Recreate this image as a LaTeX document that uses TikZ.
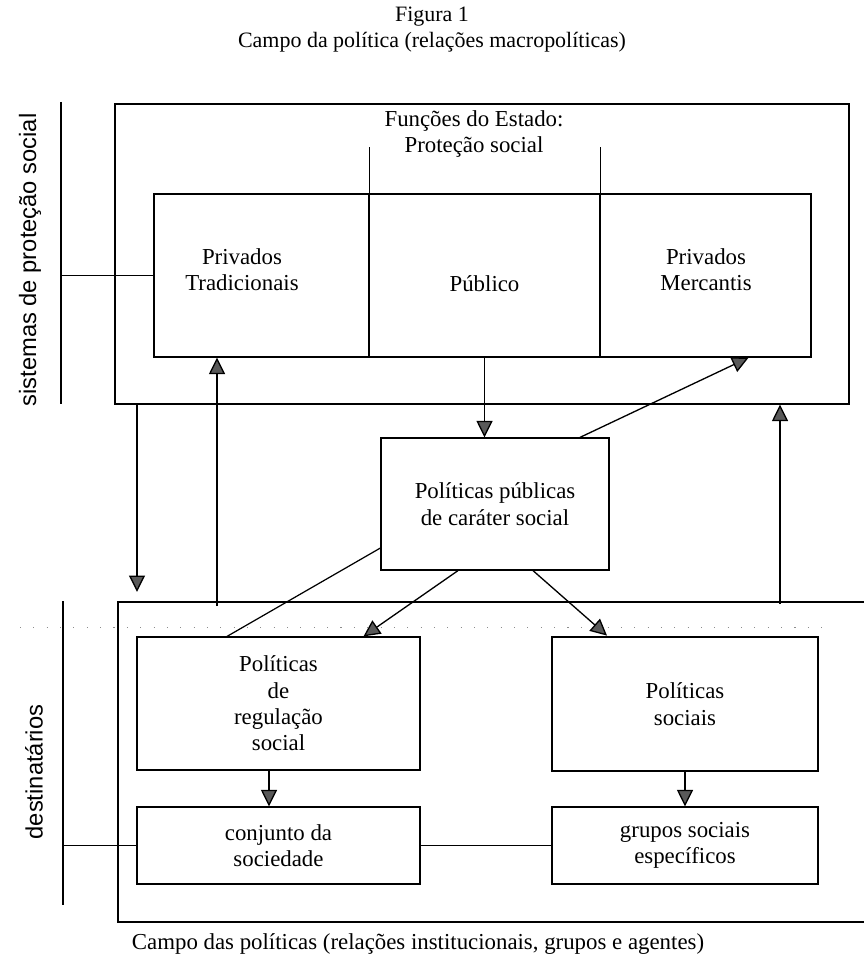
\documentclass[tikz,border=0pt]{standalone}
\usepackage{fontspec}
\setmainfont{Liberation Serif}
\setsansfont{Liberation Sans}
\usetikzlibrary{arrows.meta,positioning}

\begin{document}
\begin{tikzpicture}[
    x=0.02cm, y=-0.02cm,
    every node/.style={font=\fontsize{13}{15}\selectfont},
    caixa/.style={rectangle, draw, line width=0.7pt, inner sep=0pt, align=center},
    texto/.style={align=center, inner sep=0pt},
    rotulo/.style={font=\sffamily\fontsize{13.5}{15}\selectfont, rotate=90, inner sep=0pt},
    seta/.style={line width=0.75pt, -{Triangle[length=0.33cm, width=0.32cm, fill=black!65]}},
    liga/.style={line width=0.7pt},
    barra/.style={line width=1.3pt}
]
    \useasboundingbox (0,0) rectangle (863,959);

    % Titles
    \node[texto, font=\fontsize{12.5}{15}\selectfont] (fig) at (432,17) {Figura 1};
    \node[texto, font=\fontsize{12.5}{15}\selectfont] (titulo) at (432,42) {Campo da política (relações macropolíticas)};
    \node[texto] (rodape) at (418,944) {Campo das políticas (relações institucionais, grupos e agentes)};

    % Frames
    \node[caixa, minimum width=14.68cm, minimum height=6cm] (estado) at (482,254) {};
    \node[caixa, minimum width=15.64cm, minimum height=6.4cm] (campo) at (509,762) {};
    \node[texto] (funcoes) at (474,134) {Funções do Estado:\\Proteção social};

    % Protection systems
    \node[caixa, minimum width=4.3cm, minimum height=3.26cm] (tradic) at (261.5,275.5) {};
    \node[caixa, minimum width=4.62cm, minimum height=3.26cm] (publico) at (484.5,275.5) {};
    \node[caixa, minimum width=4.22cm, minimum height=3.26cm] (mercant) at (705.5,275.5) {};
    \node[texto] (ttradic) at (242,270) {Privados\\Tradicionais};
    \node[texto] (tpublico) at (484.5,284) {Público};
    \node[texto] (tmercant) at (706,270) {Privados\\Mercantis};
    \draw[liga] (tradic.north east) -- ++(0,-46);
    \draw[liga] (publico.north east) -- ++(0,-46);

    % Public policies
    \node[caixa, minimum width=4.56cm, minimum height=2.64cm] (politicas) at (495,504) {Políticas públicas\\de caráter social};

    % Policies and recipients
    \node[caixa, minimum width=5.66cm, minimum height=2.66cm] (regul) at (278.5,703.5) {Políticas\\de\\regulação\\social};
    \node[caixa, line width=1.6pt, minimum width=5.32cm, minimum height=2.68cm] (sociais) at (685,704) {Políticas\\sociais};
    \node[caixa, minimum width=5.66cm, minimum height=1.54cm] (conjunto) at (278.5,845.5) {conjunto da\\sociedade};
    \node[caixa, minimum width=5.32cm, minimum height=1.54cm] (grupos) at (685,845.5) {grupos sociais\\específicos};

    % Side labels
    \coordinate (b1a) at (61,102);
    \coordinate (b1b) at (61,404);
    \coordinate (b2a) at (63,601);
    \coordinate (b2b) at (63,905);
    \draw[barra] (b1a) -- (b1b);
    \draw[barra] (b2a) -- (b2b);
    \node[rotulo] (sistemas) at (30,260) {sistemas de proteção social};
    \node[rotulo] (destin) at (34,772) {destinatários};
    \draw[liga] (tradic.west) -- (tradic.west -| b1a);
    \draw[liga] (conjunto.west) -- (conjunto.west -| b2a);
    \draw[liga] (conjunto.east) -- (grupos.west);

    % Dotted guide
    \coordinate (pa) at (20,627);
    \coordinate (pb) at (823,627);
    \draw[black!45, line width=0.5pt, dash pattern=on 0.6pt off 7pt] (pa) -- (pb);

    % Connections
    \coordinate (desce) at (137,592);
    \coordinate (sobe) at (217,606);
    \coordinate (sobe2) at (780,604);
    \draw[seta] (desce |- estado.south) -- (desce);
    \draw[seta] (sobe) -- (sobe |- tradic.south);
    \draw[seta] (sobe2) -- (sobe2 |- estado.south);
    \draw[seta] (publico.south) -- (publico.south |- politicas.north);
    \draw[seta] ([xshift=1.7cm]politicas.north) -- ([xshift=-1.26cm]mercant.south east);
    \draw[liga] ([yshift=-0.88cm]politicas.west) -- ([xshift=-1.03cm]regul.north);
    \draw[seta] ([xshift=-0.74cm]politicas.south) -- ([xshift=1.7cm]regul.north);
    \draw[seta] ([xshift=0.76cm]politicas.south) -- ([xshift=-1.56cm]sociais.north);
    \draw[seta] ([xshift=-0.19cm]regul.south) -- ([xshift=-0.19cm]conjunto.north);
    \draw[seta] (sociais.south) -- (grupos.north);
\end{tikzpicture}
\end{document}
